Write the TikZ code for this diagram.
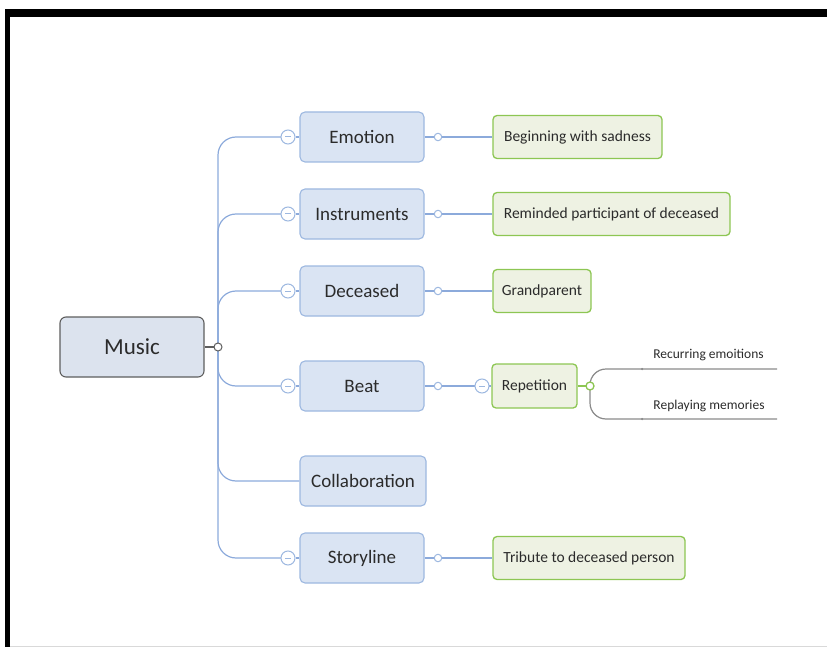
\documentclass[tikz,border=0pt]{standalone}
\usepackage{fontspec}
\setmainfont{Carlito}
\pgfdeclarelayer{background}
\pgfsetlayers{background,main}
\begin{document}
\definecolor{framecol}{HTML}{000000}
\definecolor{txt}{HTML}{2B2B2B}
\definecolor{musicfill}{HTML}{DCE3EE}
\definecolor{musicline}{HTML}{5E5E5E}
\definecolor{topicfill}{HTML}{DAE4F3}
\definecolor{topicline}{HTML}{9DB8E0}
\definecolor{branch}{HTML}{8CAADB}
\definecolor{leaffill}{HTML}{EEF2E3}
\definecolor{leafline}{HTML}{8DC653}
\definecolor{subline}{HTML}{8A8A8A}
\begin{tikzpicture}[x=1pt,y=-1pt,
  musicbox/.style={draw=musicline, fill=musicfill, line width=1.1pt, rounded corners=6pt,
    minimum width=144pt, minimum height=60pt, text=txt, font=\fontsize{23}{26}\selectfont, inner sep=0pt},
  topicbox/.style={draw=topicline, fill=topicfill, line width=1.1pt, rounded corners=5pt,
    minimum width=124pt, minimum height=50pt, text=txt, font=\fontsize{19}{22}\selectfont, inner sep=0pt},
  leafbox/.style={draw=leafline, fill=leaffill, line width=1.3pt, rounded corners=4pt,
    minimum height=43pt, text=txt, font=\fontsize{15.5}{18}\selectfont, inner sep=0pt},
  sublabel/.style={text=txt, font=\fontsize{13.5}{16}\selectfont, inner sep=0pt},
  blueline/.style={draw=branch, line width=1.2pt},
  greyline/.style={draw=subline, line width=1.2pt},
  minusbtn/.style={circle, draw=#1, fill=white, line width=1pt, minimum size=14pt, inner sep=0pt,
    path picture={\draw[#1, line width=1pt] ([xshift=-3pt]path picture bounding box.center) -- ([xshift=3pt]path picture bounding box.center);}},
  knob/.style={circle, draw=#1, fill=white, line width=1pt, minimum size=7.5pt, inner sep=0pt},
  tick/.style={circle, fill=subline, minimum size=2.5pt, inner sep=0pt}
]
\useasboundingbox (0,0) rectangle (827,647);

% page frame
\fill[framecol] (5,9) rectangle (827,17);
\fill[framecol] (5,9) rectangle (10,647);
\draw[black!15, line width=0.8pt] (10,646) -- (827,646);

% central topic
\node[musicbox] (music) at (132,347) {Music};
\node[knob=musicline, minimum size=8pt] (mknob) at (218,347) {};

% main branches
\node[topicbox] (emotion) at (362,137) {Emotion};
\node[topicbox] (instr)   at (362,214) {Instruments};
\node[topicbox] (dec)     at (362,291) {Deceased};
\node[topicbox] (beat)    at (362,386) {Beat};
\node[topicbox, minimum width=126pt] (collab) at (363,481) {Collaboration};
\node[topicbox] (story)   at (362,558) {Storyline};

\node[minusbtn=topicline] (m1) at (288,137) {};
\node[minusbtn=topicline] (m2) at (288,214) {};
\node[minusbtn=topicline] (m3) at (288,291) {};
\node[minusbtn=topicline] (m4) at (288,386) {};
\node[minusbtn=topicline] (m6) at (288,558) {};

\node[knob=topicline] (k1) at (438,137) {};
\node[knob=topicline] (k2) at (438,214) {};
\node[knob=topicline] (k3) at (438,291) {};
\node[knob=topicline] (k4) at (438,386) {};
\node[knob=topicline] (k6) at (438,558) {};

% details
\node[leafbox, minimum width=169pt] (l1) at (577.5,137) {Beginning with sadness};
\node[leafbox, minimum width=237pt] (l2) at (611.5,214) {Reminded participant of deceased};
\node[leafbox, minimum width=98pt]  (l3) at (542,291) {Grandparent};
\node[leafbox, minimum width=85pt, minimum height=44pt] (l4) at (534.5,386) {Repetition};
\node[leafbox, minimum width=192pt] (l6) at (589,558) {Tribute to deceased person};
\node[minusbtn=topicline] (m44) at (482,386) {};

% sub-details of Repetition
\node[knob=leafline, line width=1.3pt, minimum size=8pt] (rknob) at (590,386) {};
\coordinate (recend) at (777,369);
\coordinate (repend) at (777,419);
\node[tick] (t1) at (642,369) {};
\node[tick] (t2) at (642,419) {};
\node[sublabel] (rec) at (708.5,355) {Recurring emoitions};
\node[sublabel] (rep) at (709,406) {Replaying memories};

% connectors, kept underneath the boxes and knobs
\begin{pgfonlayer}{background}
\draw[musicline, line width=1.2pt] (music.east) -- (mknob);
\draw[blueline, rounded corners=18pt] (mknob.center) |- (m1.center);
\draw[blueline, rounded corners=18pt] (mknob.center) |- (m2.center);
\draw[blueline, rounded corners=18pt] (mknob.center) |- (m3.center);
\draw[blueline, rounded corners=18pt] (mknob.center) |- (m4.center);
\draw[blueline, rounded corners=18pt] (mknob.center) |- (collab.west);
\draw[blueline, rounded corners=18pt] (mknob.center) |- (m6.center);
\draw[blueline] (m1) -- (emotion);
\draw[blueline] (m2) -- (instr);
\draw[blueline] (m3) -- (dec);
\draw[blueline] (m4) -- (beat);
\draw[blueline] (m6) -- (story);
\draw[blueline] (emotion.east) -- (l1.west);
\draw[blueline] (instr.east) -- (l2.west);
\draw[blueline] (dec.east) -- (l3.west);
\draw[blueline] (beat.east) -- (m44.center);
\draw[blueline] (m44.center) -- (l4.west);
\draw[blueline] (story.east) -- (l6.west);
\draw[leafline, line width=1.3pt] (l4.east) -- (rknob.center);
\draw[greyline, rounded corners=16pt] (rknob.center) |- (recend);
\draw[greyline, rounded corners=16pt] (rknob.center) |- (repend);
\end{pgfonlayer}
\end{tikzpicture}
\end{document}
